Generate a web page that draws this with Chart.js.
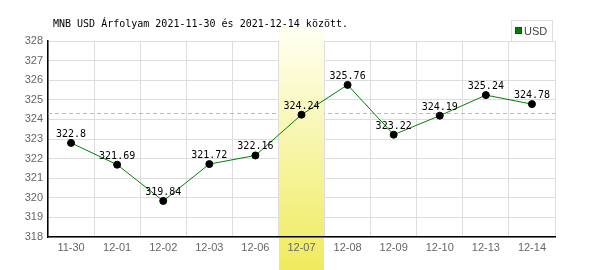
<!DOCTYPE html>
<html>
<head>
<meta charset="utf-8">
<script src="https://cdn.jsdelivr.net/npm/chart.js@4"></script>
<style>
  html, body { margin: 0; padding: 0; background: #fff; }
  #wrap { width: 600px; height: 270px; position: relative; }
</style>
</head>
<body>
<div id="wrap"><canvas id="chart"></canvas></div>
<script>
const labels = ['11-30', '12-01', '12-02', '12-03', '12-06', '12-07', '12-08', '12-09', '12-10', '12-13', '12-14']
const usd = [322.8, 321.69, 319.84, 321.72, 322.16, 324.24, 325.76, 323.22, 324.19, 325.24, 324.78]
const refLevel = 324.35
const highlight = '12-07'
const title = 'MNB USD Árfolyam 2021-11-30 és 2021-12-14 között.'
const seriesName = 'USD'

const mono = '"DejaVu Sans Mono", "Liberation Mono", monospace'
const sans = '"Liberation Sans", Arial, sans-serif'

// dashed reference line, yellow band behind the highlighted day, title, legend box, value labels
const decor = {
  id: 'decor',
  beforeDatasetsDraw(chart) {
    const ctx = chart.ctx
    const area = chart.chartArea
    const x = chart.scales.x
    const y = chart.scales.y

    const ry = Math.round(y.getPixelForValue(refLevel)) + 0.5
    ctx.save()
    ctx.strokeStyle = '#9fcf9f'
    ctx.lineWidth = 1
    ctx.setLineDash([4, 3])
    ctx.beginPath()
    ctx.moveTo(area.left, ry)
    ctx.lineTo(area.right, ry)
    ctx.stroke()
    ctx.restore()

    const i = labels.indexOf(highlight)
    const half = (x.getPixelForValue(1) - x.getPixelForValue(0)) / 2
    const cx = x.getPixelForValue(i)
    const g = ctx.createLinearGradient(0, 28, 0, chart.height)
    g.addColorStop(0, '#fffff2')
    g.addColorStop(1, '#efeb5c')
    ctx.save()
    ctx.fillStyle = g
    ctx.fillRect(Math.round(cx - half) + 1, 28, Math.round(half * 2) - 1, chart.height - 28)
    ctx.restore()
  },
  afterDatasetsDraw(chart) {
    const ctx = chart.ctx
    const meta = chart.getDatasetMeta(0)
    ctx.save()
    ctx.font = '10px ' + mono
    ctx.fillStyle = '#000'
    ctx.textAlign = 'center'
    ctx.textBaseline = 'alphabetic'
    meta.data.forEach((pt, i) => {
      ctx.fillText(String(usd[i]), pt.x, pt.y - 6)
    })
    ctx.restore()
  },
  afterDraw(chart) {
    const ctx = chart.ctx
    ctx.save()
    ctx.font = '10px ' + mono
    ctx.fillStyle = '#000'
    ctx.textAlign = 'left'
    ctx.textBaseline = 'alphabetic'
    ctx.fillText(title, 53, 27)

    ctx.strokeStyle = '#dddddd'
    ctx.lineWidth = 1
    ctx.strokeRect(511.5, 20.5, 41, 21)
    ctx.fillStyle = '#008000'
    ctx.fillRect(515, 27, 7, 7)
    ctx.strokeStyle = '#006000'
    ctx.strokeRect(515.5, 27.5, 6, 6)
    ctx.font = '11px ' + sans
    ctx.fillStyle = '#444'
    ctx.fillText(seriesName, 524, 35)
    ctx.restore()
  }
}

new Chart(document.getElementById('chart'), {
  type: 'line',
  data: {
    labels: labels,
    datasets: [
      {
        label: seriesName,
        data: usd,
        borderColor: '#008000',
        borderWidth: 1,
        pointRadius: 3.5,
        pointBackgroundColor: '#000',
        pointBorderColor: '#000',
        tension: 0
      }
    ]
  },
  options: {
    responsive: true,
    maintainAspectRatio: false,
    animation: false,
    layout: { padding: { top: 41, right: 45, left: 0, bottom: 0 } },
    plugins: {
      legend: { display: false },
      title: { display: false },
      tooltip: { enabled: false }
    },
    scales: {
      x: {
        offset: true,
        afterFit(s) { s.height = 33 },
        grid: { offset: true, color: '#dddddd', drawTicks: false },
        border: { color: '#000', width: 1.5, z: 1 },
        ticks: {
          z: 1,
          padding: 4,
          color: '#666',
          font: { family: sans, size: 11 },
          maxRotation: 0,
          autoSkip: false
        }
      },
      y: {
        min: 318,
        max: 328,
        afterFit(s) { s.width = 48 },
        grid: { color: '#dddddd', drawTicks: false },
        border: { color: '#000', width: 1.5 },
        ticks: {
          stepSize: 1,
          padding: 5,
          color: '#666',
          font: { family: sans, size: 11 }
        }
      }
    }
  },
  plugins: [decor]
})
</script>
</body>
</html>
